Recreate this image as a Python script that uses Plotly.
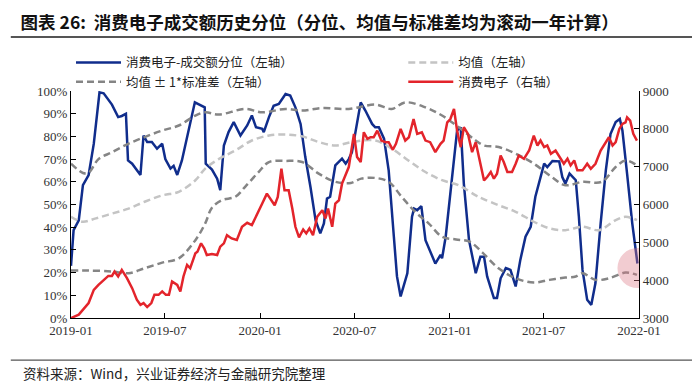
import plotly.graph_objects as go

# ---------------- data ----------------
pct_dates = ["2019-01-01","2019-01-06","2019-01-16","2019-01-24","2019-02-04","2019-02-14","2019-02-25","2019-03-05",
 "2019-03-21","2019-04-02","2019-04-09","2019-04-17","2019-04-21","2019-04-29","2019-05-15","2019-05-21","2019-05-28",
 "2019-06-06","2019-06-16","2019-06-26","2019-07-02","2019-07-12","2019-07-18","2019-07-25","2019-08-03","2019-08-13",
 "2019-08-28","2019-09-16","2019-09-18","2019-09-30","2019-10-10","2019-10-16","2019-10-23","2019-11-01","2019-11-11",
 "2019-11-24","2019-12-07","2019-12-16","2019-12-24","2020-01-05","2020-01-08","2020-01-18","2020-01-27","2020-02-06",
 "2020-02-19","2020-02-28","2020-03-09","2020-03-19","2020-03-28","2020-04-07","2020-04-17","2020-04-26","2020-05-03",
 "2020-05-09","2020-05-15","2020-05-25","2020-06-07","2020-06-14","2020-06-20","2020-06-26","2020-07-06","2020-07-13",
 "2020-07-22","2020-08-04","2020-08-10","2020-08-17","2020-08-27","2020-09-05","2020-09-15","2020-09-21","2020-09-28",
 "2020-10-11","2020-10-20","2020-10-24","2020-10-30","2020-11-07","2020-11-15","2020-11-28","2020-12-04","2020-12-14",
 "2020-12-17","2020-12-24","2021-01-02","2021-01-15","2021-01-22","2021-01-28","2021-02-07","2021-02-20","2021-03-01",
 "2021-03-08","2021-03-14","2021-03-27","2021-04-02","2021-04-09","2021-04-19","2021-04-28","2021-05-08","2021-05-17",
 "2021-05-27","2021-06-06","2021-06-15","2021-06-22","2021-07-02","2021-07-08","2021-07-18","2021-07-31","2021-08-06",
 "2021-08-12","2021-08-20","2021-09-01","2021-09-07","2021-09-14","2021-09-23","2021-10-01","2021-10-09","2021-10-19",
 "2021-10-29","2021-11-07","2021-11-17","2021-11-25","2021-11-30","2021-12-09","2021-12-19","2021-12-29"]
pct_values = [23,38.7,43,58.5,63,76.8,99.4,99,
 94,88.5,89,90,69.4,68,63,80.4,77.5,
 77.5,74.6,76.8,70,65.8,67,63,69.4,79.7,
 95,92.8,68,65.4,61.4,56.3,76,81.9,86.3,
 80.4,84.8,89.2,84,83.3,81.9,88.5,93.5,94.3,
 98.7,98,92.8,85.5,71,57.8,43,37.3,41.7,
 52.6,53.4,67.2,70.2,68,70,73,85.5,95,
 91.4,85.5,84,84,79,65,35.8,18.3,9.5,
 19.7,44.6,48.2,47.5,49.3,34.3,27,24,27.8,
 26.3,35.8,56.3,82.6,84,59.2,34.3,19.7,27,
 27,18.3,8.8,8.8,17.5,22,21.2,13.9,25.6,
 35.8,40.2,53.4,59.2,68,66.5,69.2,69,62.1,
 59.2,63.6,60.7,44.6,21.2,8,5.8,15.4,41.7,
 65,81,86.3,87.7,82.6,63.6,41.7,24]

ce_dates = ["2019-01-01","2019-01-16","2019-02-04","2019-02-14","2019-02-23","2019-03-05","2019-03-14","2019-03-21",
 "2019-03-26","2019-04-02","2019-04-09","2019-04-19","2019-04-29","2019-05-08","2019-05-15","2019-05-21","2019-05-28",
 "2019-06-05","2019-06-11","2019-06-19","2019-06-26","2019-07-03","2019-07-09","2019-07-15","2019-07-25","2019-07-31",
 "2019-08-06","2019-08-13","2019-08-19","2019-08-29","2019-09-02","2019-09-09","2019-09-15","2019-09-20","2019-09-30",
 "2019-10-10","2019-10-16","2019-10-23","2019-10-29","2019-11-07","2019-11-17","2019-11-27","2019-12-07","2019-12-16",
 "2019-12-26","2020-01-05","2020-01-14","2020-01-21","2020-01-29","2020-02-04","2020-02-11","2020-02-17","2020-02-25",
 "2020-03-03","2020-03-09","2020-03-16","2020-03-24","2020-03-30","2020-04-05","2020-04-12","2020-04-20","2020-04-30",
 "2020-05-06","2020-05-11","2020-05-19","2020-05-25","2020-06-01","2020-06-07","2020-06-20","2020-06-30","2020-07-06",
 "2020-07-13","2020-07-19","2020-07-26","2020-08-01","2020-08-07","2020-08-14","2020-08-22","2020-08-30","2020-09-05",
 "2020-09-13","2020-09-19","2020-09-28","2020-10-07","2020-10-14","2020-10-23","2020-10-30","2020-11-08","2020-11-15",
 "2020-11-24","2020-12-04","2020-12-14","2020-12-20","2020-12-27","2021-01-02","2021-01-09","2021-01-15","2021-01-22",
 "2021-01-28","2021-02-05","2021-02-13","2021-02-20","2021-03-01","2021-03-08","2021-03-14","2021-03-21","2021-03-27",
 "2021-04-02","2021-04-09","2021-04-15","2021-04-22","2021-05-01","2021-05-08","2021-05-14","2021-05-24","2021-06-03",
 "2021-06-12","2021-06-19","2021-06-25","2021-07-02","2021-07-08","2021-07-15","2021-07-24","2021-08-03","2021-08-09",
 "2021-08-16","2021-08-22","2021-08-29","2021-09-04","2021-09-14","2021-09-23","2021-09-30","2021-10-09","2021-10-19",
 "2021-10-29","2021-11-04","2021-11-11","2021-11-17","2021-11-24","2021-11-30","2021-12-06","2021-12-09","2021-12-15",
 "2021-12-21","2021-12-28"]
ce_values = [3000,3088,3395,3745,3876,4008,4113,4113,
 4228,4097,4271,4052,3789,3482,3350,3395,3290,
 3395,3613,3613,3702,3613,3613,3965,3876,3702,
 4097,4403,4315,4710,4754,4973,4841,4666,4692,
 4666,4885,4973,5191,5104,5060,5411,5516,5455,
 5762,6025,6288,6156,5981,6200,6945,6374,6374,
 5893,5411,5130,5341,5236,5367,5191,5675,5850,
 5630,5893,5411,6025,6112,6551,6990,7866,7253,
 7122,7910,7734,7778,7778,7953,7690,7647,7647,
 7446,7603,7997,7690,7778,8260,7866,7910,7690,
 7647,7384,7603,7690,8173,8260,8523,7953,7515,
 8042,7866,7384,7647,7077,6637,6727,6858,6682,
 6814,7295,7122,6858,6858,7077,7295,7208,7427,
 7822,7559,7690,7515,7559,7340,7427,7208,7077,
 7208,7033,7164,6902,6902,7077,6945,7077,7427,
 7647,7778,7559,7647,7997,8129,8173,8304,8217,
 7866,7690]

upper_dates = ["2019-01-01","2019-01-24","2019-02-04","2019-02-23","2019-03-21","2019-04-22","2019-05-23","2019-06-26",
 "2019-07-28","2019-08-29","2019-09-17","2019-10-13","2019-12-03","2020-01-05","2020-02-19","2020-03-22","2020-04-30",
 "2020-06-20","2020-08-10","2020-09-11","2020-10-07","2020-11-15","2020-12-17","2021-01-18","2021-02-20","2021-03-08",
 "2021-04-05","2021-05-08","2021-06-12","2021-07-12","2021-08-12","2021-09-14","2021-10-21","2021-11-17","2021-12-06",
 "2021-12-28"]
upper_values = [68,63.9,64,70,73,76.8,79.7,82.6,
 84.8,89.2,90.6,89.6,92.1,90.6,92.1,91.4,92.5,
 92.1,94,92.1,95,92.8,89.2,84,78.2,76,
 75.3,72.4,68,62.9,58.5,60,60,66.5,69.4,
 67.2]

mean_dates = ["2019-01-01","2019-01-23","2019-02-18","2019-03-21","2019-04-22","2019-05-23","2019-06-26","2019-07-28",
 "2019-08-29","2019-09-17","2019-10-13","2019-11-14","2019-12-16","2020-01-18","2020-02-19","2020-03-22","2020-04-23",
 "2020-05-25","2020-06-26","2020-08-10","2020-09-11","2020-10-13","2020-11-15","2020-12-17","2021-01-18","2021-02-20",
 "2021-03-05","2021-04-05","2021-05-08","2021-06-12","2021-07-12","2021-08-12","2021-09-14","2021-10-16","2021-11-17",
 "2021-12-06","2021-12-28"]
mean_values = [44.6,42.4,43.9,46,48.2,51.2,54,55.6,
 60.7,65.8,70,73.8,78.2,80.4,80.8,80,77.5,
 76,77.5,78.2,74.6,69.4,64.3,60.7,58.5,54,
 52.6,49.7,46.8,42.4,39.5,38.7,40.2,38.7,43.1,
 44.6,43.1]

lower_dates = ["2019-01-01","2019-02-04","2019-03-21","2019-04-22","2019-05-23","2019-06-26","2019-07-28","2019-08-29",
 "2019-09-17","2019-09-30","2019-10-19","2019-11-14","2019-12-03","2019-12-29","2020-01-18","2020-02-19","2020-03-22",
 "2020-04-23","2020-05-25","2020-06-24","2020-07-14","2020-08-10","2020-09-05","2020-09-30","2020-10-26","2020-11-21",
 "2020-12-17","2021-01-13","2021-02-08","2021-03-05","2021-04-05","2021-05-08","2021-06-12","2021-07-12","2021-08-12",
 "2021-09-01","2021-09-14","2021-10-09","2021-11-04","2021-12-06","2021-12-28"]
lower_values = [20.9,20.9,20.5,19.7,21.9,24.4,26.3,34.3,
 41.7,48.6,51.9,53.4,57.8,64.3,68.7,69.2,68.7,
 63.6,60,59.5,61.4,61.7,60,53.4,46.8,41.7,
 35.8,34.6,33.6,28.8,21.9,17.5,15.6,16.8,17.8,
 18.3,19.7,16.8,17.5,20,19]

names = ["消费电子-成交额分位（左轴）", "均值（左轴）", "均值 ± 1*标准差（左轴）", "消费电子（右轴）"]
title_text = "图表 26:  消费电子成交额历史分位（分位、均值与标准差均为滚动一年计算）"
source_text = "资料来源：Wind，兴业证券经济与金融研究院整理"

# ---------------- styles ----------------
BLUE = "#102D8C"
RED = "#E3242B"
LGRAY = "#C4C4C4"
DGRAY = "#858585"
SERIF = "Liberation Serif, Times New Roman, serif"
CJK = "Noto Sans CJK SC, sans-serif"
DASH = "7px,4px"

fig = go.Figure()

fig.add_trace(go.Scatter(x=pct_dates, y=[v / 100 for v in pct_values], name=names[0], mode="lines",
                         legend="legend", line=dict(color=BLUE, width=2.5)))
fig.add_trace(go.Scatter(x=upper_dates, y=[v / 100 for v in upper_values], name=names[2], mode="lines",
                         legend="legend", legendgroup="std",
                         line=dict(color=DGRAY, width=2.5, dash=DASH, shape="spline")))
fig.add_trace(go.Scatter(x=lower_dates, y=[v / 100 for v in lower_values], name=names[2], mode="lines",
                         legend="legend", legendgroup="std", showlegend=False,
                         line=dict(color=DGRAY, width=2.5, dash=DASH, shape="spline")))
fig.add_trace(go.Scatter(x=mean_dates, y=[v / 100 for v in mean_values], name=names[1], mode="lines",
                         legend="legend2", line=dict(color=LGRAY, width=2.5, dash=DASH, shape="spline")))
fig.add_trace(go.Scatter(x=ce_dates, y=ce_values, name=names[3], mode="lines", yaxis="y2",
                         legend="legend2", line=dict(color=RED, width=2.5)))

# highlight circle around last percentile point
fig.add_shape(type="circle", xref="x", yref="y", xsizemode="pixel", ysizemode="pixel",
              xanchor=pct_dates[-1], yanchor=pct_values[-1] / 100 - 0.02,
              x0=-20, x1=20, y0=-20, y1=20,
              fillcolor="rgba(222,120,135,0.38)", line=dict(width=0), layer="above")

# title underline and source separator
fig.add_shape(type="line", xref="paper", yref="paper", x0=-0.106, x1=1.116, y0=1.238, y1=1.238,
              line=dict(color="#555555", width=2))
fig.add_shape(type="line", xref="paper", yref="paper", x0=-0.106, x1=1.116, y0=-0.186, y1=-0.186,
              line=dict(color="#555555", width=1.2))

fig.add_annotation(text=source_text, xref="paper", yref="paper", x=-0.088, y=-0.243,
                   xanchor="left", yanchor="middle", showarrow=False,
                   font=dict(family=CJK, size=13.5, color="#222222"))

legend_common = dict(orientation="v", yanchor="top", y=1.19, traceorder="normal",
                     font=dict(family=CJK, size=12.5, color="#222222"),
                     bgcolor="rgba(0,0,0,0)", itemwidth=45, tracegroupgap=0)

fig.update_layout(
    width=700, height=385,
    margin=dict(l=63, r=69, t=83, b=75, autoexpand=False),
    paper_bgcolor="white", plot_bgcolor="white",
    title=dict(text=title_text, x=0.018, xanchor="left", y=0.962, yanchor="middle",
               font=dict(family=CJK, size=17.5, color="#111111", weight="bold")),
    showlegend=True,
    legend=dict(x=0.0, xanchor="left", **legend_common),
    legend2=dict(x=0.585, xanchor="left", **legend_common),
    xaxis=dict(type="date", range=["2019-01-01", "2022-01-01"], dtick="M6", tick0="2019-01-01",
               tickformat="%Y-%m", ticks="inside", ticklen=5, tickcolor="#000", showline=True,
               linecolor="#000", linewidth=1.3, showgrid=False, zeroline=False, automargin=False,
               tickfont=dict(family=SERIF, size=13, color="#333333")),
    yaxis=dict(range=[0, 1], dtick=0.1, tickformat=".0%", ticks="inside", ticklen=5, tickcolor="#000",
               showline=True, linecolor="#000", linewidth=1.3, showgrid=False, zeroline=False,
               automargin=False, tickfont=dict(family=SERIF, size=13, color="#333333")),
    yaxis2=dict(range=[3000, 9000], dtick=1000, overlaying="y", side="right", ticks="inside", ticklen=5,
                tickcolor="#000", showline=True, linecolor="#000", linewidth=1.3, showgrid=False,
                zeroline=False, automargin=False, tickfont=dict(family=SERIF, size=13, color="#333333")),
)

fig.write_html("out.html")
